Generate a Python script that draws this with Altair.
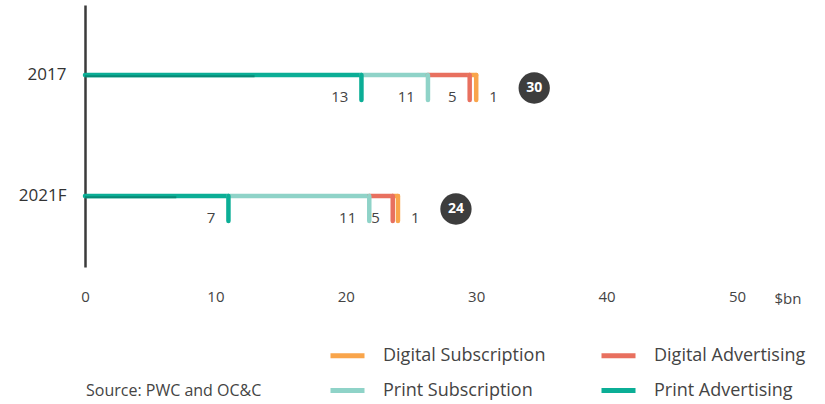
import altair as alt
import pandas as pd

years = ["2017", "2021F"]
rows = [0, 1]
series = ["Print Advertising", "Print Subscription", "Digital Advertising", "Digital Subscription"]
# legend (column-major fill): column 1 = Digital Subscription, Print Subscription; column 2 = Digital Advertising, Print Advertising
legend_order = ["Digital Subscription", "Print Subscription", "Digital Advertising", "Print Advertising"]
legend_colors = ["#F9A54B", "#8FD3C8", "#E8705F", "#0BAE96"]

# labelled values ($bn)
values_2017 = [13, 11, 5, 1]
values_2021 = [7, 11, 5, 1]
# end of each segment as drawn on the chart
ends_2017 = [21.2, 26.3, 29.5, 30.0]
ends_2021 = [11.0, 21.8, 23.6, 24.0]
totals = [30, 24]

recs = []
for yr, r, vals, ends in [(years[0], rows[0], values_2017, ends_2017),
                          (years[1], rows[1], values_2021, ends_2021)]:
    start = 0.0
    for s, v, e in zip(series, vals, ends):
        recs.append(dict(year=yr, row=r, series=s, start=start, end=e, label=str(v), value=v))
        start = e
seg = pd.DataFrame(recs)
tot = pd.DataFrame(dict(year=years, row=rows, total=totals, label=[str(t) for t in totals]))

FONT = "Open Sans"
xscale = alt.Scale(domain=[0, 50], nice=False, zero=True)
yscale = alt.Scale(domain=[-0.5785, 1.5868], reverse=True, nice=False, zero=False)

xenc = alt.X("start:Q", scale=xscale,
             axis=alt.Axis(values=[0, 10, 20, 30, 40, 50], domain=False, ticks=False, grid=False,
                           labelFlush=False, labelPadding=22, labelFontSize=15, labelColor="#444",
                           labelFont=FONT,
                           title="$bn", titleX=689, titleY=31, titleAlign="left", titleBaseline="middle",
                           titleFontSize=15, titleFontWeight="normal", titleColor="#444", titleFont=FONT))
yenc = alt.Y("row:Q", scale=yscale,
             axis=alt.Axis(values=rows, labelExpr=f"{years}[datum.value]", domain=True,
                           domainColor="#3b3b3b", domainWidth=2.5, ticks=False, grid=False,
                           labelPadding=19, labelFontSize=17, labelColor="#333", labelFont=FONT,
                           title=None))

color = alt.Color("series:N",
                  scale=alt.Scale(domain=legend_order, range=legend_colors),
                  legend=alt.Legend(orient="none", legendX=243, legendY=331, columns=2,
                                    symbolType="stroke", symbolStrokeWidth=5, symbolSize=1156,
                                    labelFontSize=18, labelFont=FONT, labelColor="#444",
                                    labelOffset=16, columnPadding=45, rowPadding=5,
                                    padding=0, title=None, labelLimit=400))

base = alt.Chart(seg)

horiz = base.mark_rule(strokeWidth=4.5, strokeCap="round").encode(
    x=xenc, x2="end:Q", y=yenc, color=color)

vert = base.mark_rule(strokeWidth=4.5, strokeCap="round", y2Offset=25).encode(
    x="end:Q", y="row:Q", y2="row:Q",
    color=alt.Color("series:N", scale=alt.Scale(domain=legend_order, range=legend_colors), legend=None))

dark = base.transform_filter(alt.datum.series == "Print Advertising").mark_rule(
    strokeWidth=2, strokeCap="butt", yOffset=1.2, color="#078a76").encode(
    x="start:Q", x2="value:Q", y="row:Q")

lab_left = base.transform_filter(alt.datum.series != "Digital Subscription").mark_text(
    align="right", baseline="middle", dx=-13, dy=22, fontSize=15, font=FONT, color="#444").encode(
    x="end:Q", y="row:Q", text="label:N")
lab_right = base.transform_filter(alt.datum.series == "Digital Subscription").mark_text(
    align="left", baseline="middle", dx=13, dy=22, fontSize=15, font=FONT, color="#444").encode(
    x="end:Q", y="row:Q", text="label:N")

tb = alt.Chart(tot)
circ = tb.mark_circle(size=980, opacity=1, color="#3d3d3d", xOffset=58, yOffset=13).encode(
    x="total:Q", y="row:Q")
circ_t = tb.mark_text(color="white", fontWeight="bold", fontSize=14, font=FONT,
                      xOffset=58, yOffset=13, baseline="middle", align="center").encode(
    x="total:Q", y="row:Q", text="label:N")

source = alt.Chart(pd.DataFrame({"t": ["Source: PWC and OC&C"]})).mark_text(
    align="left", baseline="middle", fontSize=16, font=FONT, color="#444").encode(
    x=alt.value(1), y=alt.value(386), text="t:N")

chart = alt.layer(horiz, vert, dark, lab_left, lab_right, circ, circ_t, source).properties(
    width=652, height=262,
    autosize=alt.AutoSizeParams(type="none"),
    padding={"left": 85, "top": 5, "right": 88, "bottom": 137},
).configure(font=FONT).configure_view(strokeWidth=0)

chart.save("out.html", embed_options={"renderer": "svg", "actions": False})
